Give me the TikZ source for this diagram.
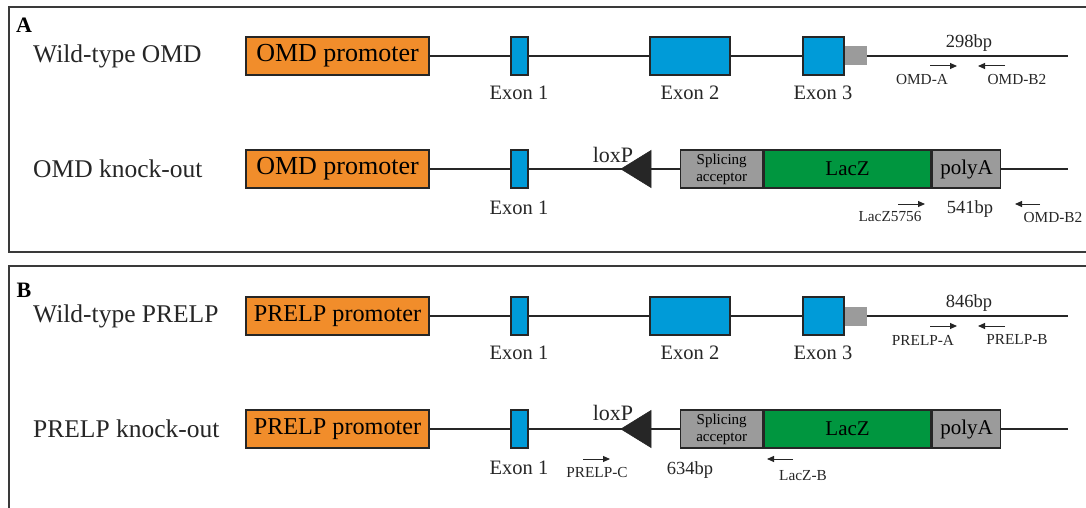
\documentclass[tikz,border=0pt]{standalone}
\usepackage{fontspec}
\setmainfont{Liberation Serif}
\usetikzlibrary{arrows.meta}
\definecolor{prom}{HTML}{F18D2B}
\definecolor{exonblue}{HTML}{009BD8}
\definecolor{laczgreen}{HTML}{00963F}
\definecolor{boxgrey}{HTML}{9B9B9B}
\definecolor{ink}{HTML}{262626}
\definecolor{framegrey}{HTML}{3A3A3A}

\tikzset{
  panel/.style={draw=framegrey, line width=2pt},
  gene/.style={draw=ink, line width=1.4pt},
  blk/.style={draw=ink, line width=1.4pt, inner sep=0pt, minimum height=38pt},
  promoter/.style={blk, fill=prom, minimum width=183pt, font=\fontsize{26}{28}\selectfont},
  promotersmall/.style={promoter, font=\fontsize{24.2}{26}\selectfont},
  exonbox/.style={blk, fill=exonblue},
  sabox/.style={blk, fill=boxgrey, minimum width=82pt, align=center,
                font=\fontsize{15}{17}\selectfont},
  laczbox/.style={blk, fill=laczgreen, minimum width=167pt, font=\fontsize{21}{24}\selectfont},
  polyabox/.style={blk, fill=boxgrey, minimum width=68pt, font=\fontsize{21}{24}\selectfont},
  utr/.style={fill=boxgrey, inner sep=0pt, minimum width=22pt, minimum height=19pt},
  rowlabel/.style={anchor=west, inner sep=0pt, font=\fontsize{25.5}{28}\selectfont, text=ink},
  panellabel/.style={anchor=center, inner sep=0pt, font=\bfseries\fontsize{22}{24}\selectfont},
  exonlabel/.style={inner sep=0pt, font=\fontsize{20.5}{23}\selectfont, text=ink},
  loxlabel/.style={inner sep=0pt, font=\fontsize{22}{24}\selectfont, text=ink},
  bplabel/.style={inner sep=0pt, font=\fontsize{18.5}{20}\selectfont, text=ink},
  primerlabel/.style={inner sep=0pt, font=\fontsize{15.3}{17}\selectfont, text=ink},
  primer/.style={draw=ink, line width=1pt, -{Triangle[length=7pt,width=6pt]}},
  loxp/.style={fill=ink, draw=ink, line width=0.6pt},
}

\begin{document}
\begin{tikzpicture}[x=1pt, y=-1pt]
\clip (0,0) rectangle (1086,508);
\fill[white] (0,0) rectangle (1086,508);

% ---------- panel frames ----------
\draw[panel] (9,7) rectangle (1100,252);
\draw[panel] (9,266) rectangle (1100,520);
\node[panellabel] (labA) at (24,25) {A};
\node[panellabel] (labB) at (24,290) {B};

% ================= Panel A =================
% Wild-type OMD
\node[rowlabel] (rA1) at (33,56) {Wild-type OMD};
\node[promoter] (pA1) at (337.5,56) {OMD promoter};
\node[exonbox, minimum width=17pt] (eA11) at (519.5,56) {};
\node[exonbox, minimum width=80pt] (eA12) at (690,56) {};
\node[exonbox, minimum width=41pt] (eA13) at (823.5,56) {};
\node[utr, anchor=west] (uA1) at (eA13.east) {};
\coordinate (endA1) at (1068,56);
\draw[gene] (pA1.east) -- (eA11.west);
\draw[gene] (eA11.east) -- (eA12.west);
\draw[gene] (eA12.east) -- (eA13.west);
\draw[gene] (uA1.east) -- (endA1);
\node[exonlabel] (xA11) at (519,93) {Exon 1};
\node[exonlabel] (xA12) at (690,93) {Exon 2};
\node[exonlabel] (xA13) at (823,93) {Exon 3};
\node[bplabel] (bpA1) at (969,43) {298bp};
\coordinate (fA1s) at (930,66); \coordinate (fA1e) at (957,66);
\coordinate (rA1s) at (1005,66); \coordinate (rA1e) at (978,66);
\draw[primer] (fA1s) -- (fA1e);
\draw[primer] (rA1s) -- (rA1e);
\node[primerlabel] (omdA) at (922,80) {OMD-A};
\node[primerlabel] (omdB2a) at (1017,80) {OMD-B2};

% OMD knock-out
\node[rowlabel] (rA2) at (33,169) {OMD knock-out};
\node[promoter] (pA2) at (337.5,169) {OMD promoter};
\node[exonbox, minimum width=17pt] (eA21) at (519.5,169) {};
\node[sabox, anchor=west] (saA) at (680,169) {Splicing\\acceptor};
\node[laczbox, anchor=west] (lzA) at (saA.east) {LacZ};
\node[polyabox, anchor=west] (paA) at (lzA.east) {polyA};
\coordinate (endA2) at (1068,169);
\draw[gene] (pA2.east) -- (eA21.west);
\draw[gene] (eA21.east) -- (saA.west);
\draw[gene] (paA.east) -- (endA2);
\coordinate (lxA) at (621,169);
\fill[loxp] (lxA) -- ++(30,-18.5) -- ++(0,37) -- cycle;
\node[loxlabel] (loxA) at (613,155) {loxP};
\node[exonlabel] (xA21) at (519,208) {Exon 1};
\coordinate (fA2s) at (898,204); \coordinate (fA2e) at (925,204);
\coordinate (rA2s) at (1040,204); \coordinate (rA2e) at (1015,204);
\draw[primer] (fA2s) -- (fA2e);
\draw[primer] (rA2s) -- (rA2e);
\node[primerlabel] (lacz5756) at (890,217) {LacZ5756};
\node[bplabel] (bpA2) at (970,209) {541bp};
\node[primerlabel] (omdB2b) at (1053,218) {OMD-B2};

% ================= Panel B =================
% Wild-type PRELP
\node[rowlabel] (rB1) at (33,316) {Wild-type PRELP};
\node[promotersmall] (pB1) at (337.5,316) {PRELP promoter};
\node[exonbox, minimum width=17pt] (eB11) at (519.5,316) {};
\node[exonbox, minimum width=80pt] (eB12) at (690,316) {};
\node[exonbox, minimum width=41pt] (eB13) at (823.5,316) {};
\node[utr, anchor=west] (uB1) at (eB13.east) {};
\coordinate (endB1) at (1068,316);
\draw[gene] (pB1.east) -- (eB11.west);
\draw[gene] (eB11.east) -- (eB12.west);
\draw[gene] (eB12.east) -- (eB13.west);
\draw[gene] (uB1.east) -- (endB1);
\node[exonlabel] (xB11) at (519,353) {Exon 1};
\node[exonlabel] (xB12) at (690,353) {Exon 2};
\node[exonlabel] (xB13) at (823,353) {Exon 3};
\node[bplabel] (bpB1) at (969,303) {846bp};
\coordinate (fB1s) at (930,326); \coordinate (fB1e) at (957,326);
\coordinate (rB1s) at (1005,326); \coordinate (rB1e) at (978,326);
\draw[primer] (fB1s) -- (fB1e);
\draw[primer] (rB1s) -- (rB1e);
\node[primerlabel] (prelpA) at (923,340) {PRELP-A};
\node[primerlabel] (prelpB) at (1017,340) {PRELP-B};

% PRELP knock-out
\node[rowlabel] (rB2) at (33,429) {PRELP knock-out};
\node[promotersmall] (pB2) at (337.5,429) {PRELP promoter};
\node[exonbox, minimum width=17pt] (eB21) at (519.5,429) {};
\node[sabox, anchor=west] (saB) at (680,429) {Splicing\\acceptor};
\node[laczbox, anchor=west] (lzB) at (saB.east) {LacZ};
\node[polyabox, anchor=west] (paB) at (lzB.east) {polyA};
\coordinate (endB2) at (1068,429);
\draw[gene] (pB2.east) -- (eB21.west);
\draw[gene] (eB21.east) -- (saB.west);
\draw[gene] (paB.east) -- (endB2);
\coordinate (lxB) at (621,429);
\fill[loxp] (lxB) -- ++(30,-18.5) -- ++(0,37) -- cycle;
\node[loxlabel] (loxB) at (613,413) {loxP};
\node[exonlabel] (xB21) at (519,468) {Exon 1};
\coordinate (fB2s) at (583,459); \coordinate (fB2e) at (610,459);
\coordinate (rB2s) at (793,459); \coordinate (rB2e) at (767,459);
\draw[primer] (fB2s) -- (fB2e);
\draw[primer] (rB2s) -- (rB2e);
\node[primerlabel] (prelpC) at (597,473) {PRELP-C};
\node[bplabel] (bpB2) at (690,470) {634bp};
\node[primerlabel] (laczB) at (803,476) {LacZ-B};
\end{tikzpicture}
\end{document}
